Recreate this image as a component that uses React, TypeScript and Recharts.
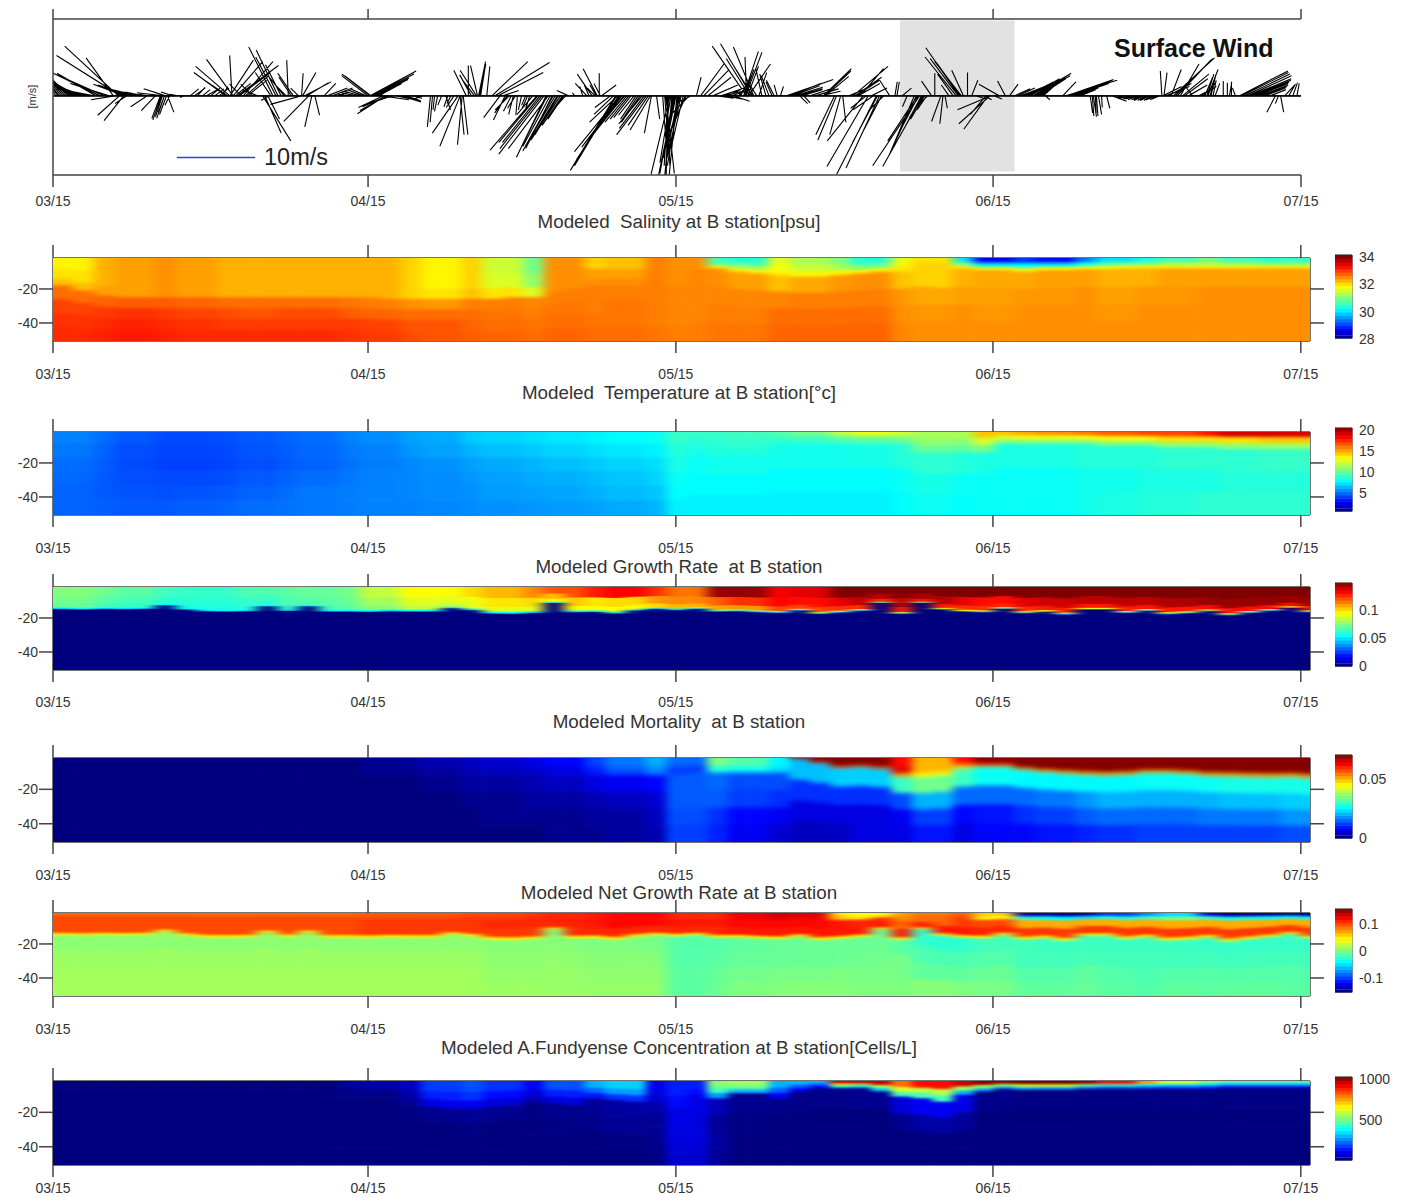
import { ComposedChart, Line, ReferenceArea, ReferenceLine, Scatter, ScatterChart, XAxis, YAxis } from 'recharts'

// x axis is days since 03/15
const dateTicks = [0, 30.8, 60.9, 91.9, 122]
const dateLabels = ['03/15', '04/15', '05/15', '06/15', '07/15']
const depthTicks = [-20, -40]
const depthTop = -1.8
const depthBottom = -50.6
const heatDayMax = 122.9

// wind sticks: [day, u m/s, v m/s]
const windMarch: number[][] = [
  [0.3,-2,2.9],[0.5,-2,2.7],[0.6,-2,2.6],[0.8,-2,2.5],[1,-2,2.4],[1.2,-2,2.3],[1.4,-2,2.2],[1.6,-2.2,2.1],[1.8,-2.5,2],[2,-2.8,2],[2.2,-3,1.9],[2.4,-3.2,1.8],[2.6,-3.5,1.6],[2.8,-3.5,1.4],[3,-3.5,1.3],[3.2,-3.8,1.2],[3.4,-4,1.1],[3.6,-4.2,1],[3.8,-4.5,0.9],[4,-4.6,0.9],
  [4.2,-5,2.9],[4.6,-6,2.9],[5,-6,2.7],[5.5,-5,1.6],[5.9,-3.5,4.9],[6.4,-6.9,6.4],[6.6,-8.2,5.2],[7,-4,1.5],[7.2,-3.7,1.4],[7.3,-3.5,1.3],[7.5,-3.2,1.1],[7.6,-3,1],[7.8,-3,0.9],[8,-3,0.8],[8.2,-2.8,0.7],[8.3,-2.5,0.6],[8.5,-2.2,0.5],[8.6,-2,0.5],[8.8,-1.8,0.4],[8.9,-1.5,0.3],[9.2,-1,0.2],
  [6.5,-2.8,-2.5],[6.9,-2.5,-3.2],[6,-3,-0.5],[7.2,-1.5,-1],[9.2,-2.1,-1.4],[10,-1.8,-1.9],[10.5,-1.1,-2.9],[10.6,-1.1,-3.1],[10.7,-0.9,-2.7],[10.8,-3.4,0.4],[10.9,-0.8,-2.1],[10.9,-1,-2.9],[11,-2.8,0.9],[11.1,-0.9,-2.4],[11.2,0.8,-2.1],[11.4,-0.6,-1.2],[11.7,-1.5,0.5],[12.2,-1,0.2],[12.8,-0.5,-0.2],
  [13.4,1.1,0.9],[13.8,1.4,1],[14.1,1,1.1],[14.6,1,0.8],[15,1.4,0.8],[15.4,1.2,1],[15.8,1.2,0.9],[16.2,1.3,1],[16.5,0.8,1.2],
  [16.9,-4.1,3],[17.1,-3,2],[17.3,-4.4,3.8],[17.3,3,4.6],[17.5,-0.3,5.2],[17.6,-3.4,4.7],[17.6,3.8,4.4],[17.8,2,1.6],[18,5.3,3.9],[18.2,4,3],[18.4,-1.5,1.5],[18.6,3.8,4.4],[18.8,3,2.6],[19,2.5,2],[19.5,-1.5,1.5],[20,-2,0.8],
]
const windApril: number[][] = [
  [20.5,3.6,-5.8],[20.7,2.1,-4.8],[21,1.5,-3],[21.1,-1,-0.6],[21.3,-2,3],[21.5,-3.1,6.3],[21.8,-2.6,5],[22,-2.8,5.9],[22.3,-2,4],[22.6,-2,2.5],[22.8,-1.5,1.5],[23,-0.2,4.6],[23.3,-1.6,2.4],[23.5,-2,2.9],[24,-1,1],[24.3,-4,-1.1],[24.3,0.2,2.9],[24.4,1.7,3],[24.6,3.4,1.8],[24.8,2.8,1.7],[25,-3.2,-3.3],[25.3,-0.9,-4],[25.6,0.6,-2.5],[26.5,1.5,1.6],[26.8,2.6,1],[27.3,2.6,1],[27.8,1.5,0.5],
  [29,-1.5,0.2],[29.6,-1.8,0.4],[30,-2,0.6],[30.3,-2,0.8],[30.6,-2,0.9],[30.8,-3.4,2.6],[31,-3.6,2.8],[31.1,-3.4,2.6],[31,5.9,3.2],[31.1,5.5,2.8],[31.3,4.6,2.3],[31.5,4.2,2.1],[31.6,3.8,2],[31.8,3,1.6],[31.9,1.9,1.2],[32.2,3.4,-0.5],[32.3,-3.2,-1.5],[32.5,-3.6,-2.3],[32.6,-3.4,-1.9],[32.7,-3.2,-1.4],[32.8,-3,-1.2],[33,-3.5,-1.2],[33.2,-3,-1],[33.3,-2.8,-0.8],[33.5,2.4,-0.5],[33.7,2,-0.3],[34,2.6,-0.8],[34.3,2.2,-0.7],[34.5,1.8,-0.6],[35,1.4,-0.3],[35.5,0.8,-0.1],[36,-0.8,-0.4],
  [36.9,-0.4,-4],[37.1,-0.3,-3.4],[37.3,-0.2,-1.8],[37.6,-0.4,-2],[38,-0.5,-1.2],[38.4,0.6,-1.8],[38.6,-0.5,-1.4],[38.9,-0.5,-1],[39.2,-1,-1.5],[39.6,-3.3,-4.8],[39.8,-2.6,-6.5],[39.8,0.5,-5],[40,-0.6,-6.3],[40.1,0.6,-5],[40.4,-1.6,3.3],[40.6,0,3.9],[40.9,-1.5,2.7],
]
const windMay: number[][] = [
  [41.2,-1.5,2],[41.4,-2.1,3.3],[41.5,-0.9,3.9],[41.6,0.9,4.4],[41.7,0.8,4.1],[41.8,0.6,3.8],[42.4,0.4,3.8],[42.9,4.6,4.4],[43.2,7,4.3],[43.5,5.8,3],[43.7,-2.1,-2.8],[44,2,0.7],[44.2,-1.5,-3.1],[44.4,-1.6,-2.2],[44.6,-1.8,-1.8],[44.8,-1,-2],[45,-0.6,-2.4],[45.2,-1,-1.6],[45.4,-0.2,-2.5],[45.8,-0.4,-1.8],[46.2,-0.5,-1.2],[46.4,-0.7,-1.6],[46.6,-0.5,-1.6],[46.9,-2,-2.4],
  [47.3,-6,-7],[47.4,-5,-6],[47.6,-4.8,-6],[47.8,-5.4,-6.8],[48,-5.8,-7.5],[48.2,-3.8,-7.9],[48.3,-3.6,-7.2],[48.4,-5.1,-6.8],[48.6,-3.5,-6.5],[48.8,-3.4,-6.8],[48.9,-3.9,-7.1],[49.1,-3.8,-6.4],[49.3,-3.4,-5.6],[49.4,-3,-5],[49.6,-3.8,-5.7],[49.8,-2.6,-3.8],[49.9,-2,-3],[50.1,-1.6,-1.8],[50.4,-1.5,0.7],[51,-0.3,0.4],[51.8,-0.4,1.2],[52.2,-1.5,1.6],[52.4,-0.6,1.4],[52.7,-1.9,2.8],[53,-1,1],[53.1,-0.8,1.4],[53.2,-1.8,3.5],[53.4,0,2.9],[53.5,-0.8,1.6],[53.6,1.9,1.4],
  [54.5,-2,-1.5],[54.8,-2.5,-2.4],[55,-5.8,-9.6],[55.1,-5.4,-9],[55.2,-3.6,-3.4],[55.3,-5.4,-8.2],[55.4,-5.8,-7.2],[55.5,-5,-6.6],[55.6,-4.4,-6],[55.8,-3.8,-4.8],[55.9,-3.5,-4],[56.1,-2.8,-3.4],[56.3,-2.4,-3],[56.5,-2.2,-2.8],[56.8,-2,-2.5],[57,-2,-3],[57.2,-2.2,-3.3],[57.4,-2.4,-3.4],[57.6,-3,-3.6],[57.8,-3.2,-4.2],[58,-3.8,-5],[58.2,-2.6,-3.8],[58.4,-2.6,-4.4],[58.5,-0.9,-4.8],[59,0.4,-3],
  [59.6,0.4,-5.5],[59.8,0.6,-8],[59.9,1.1,-10],[60,0.4,-9],[60.1,-0.2,-10.2],[60.2,-0.6,-9],[60.3,-2.4,-10.1],[60.4,-1.4,-8.6],[60.5,-0.9,-10.2],[60.6,-1.2,-8],[60.7,-1.8,-10],[60.8,-2.1,-10.2],[60.9,-1.4,-7],[61,-1,-10.2],[61.1,-1.5,-8],[61.2,-1.5,-9],[61.3,-1.6,-6],[61.4,-1.8,-8],[61.6,-1.5,-6.5],[61.8,-2,-5],[61.9,-2.1,-4.6],[62.2,-2.4,-2.5],[62.4,-2,-1],
  [62.9,0.6,2.4],[63.3,3,4.1],[63.6,3.2,3.3],[64,3,2.4],[64.5,3.2,1.4],[65,2,-0.3],[65.3,3,1],[65.5,2.5,0.6],[65.8,2,-0.4],[66,2,1],[66.3,1.8,0.6],[66.5,2.1,-0.7],[67,1.6,1.6],[67.2,1.4,2.6],[67.5,1.9,5.7],[67.6,1.2,3.4],[67.7,2.1,5.6],[67.8,-4.4,6.4],[67.8,-0.2,5],[67.9,1.4,3.8],[68,2.8,4.1],[68.1,-3,4.8],[68.3,-4,6.7],[68.4,-2.4,3.8],[68.5,-2.6,6.3],[68.8,-1.4,2.2],[69,1,3],[69.3,-0.8,3.6],[69.7,-0.8,2.8],[70,-1,2.6],[70.3,-0.8,1.8],[70.5,-1,2],[70.8,-0.4,1.4],[71.1,0.4,1.2],
]
const windJune: number[][] = [
  [71.7,6,2.1],[72,4,1.6],[72.2,3.6,1.3],[72.5,3.6,1.1],[72.8,3.2,0.9],[73,1,-1],[73.2,2.6,0.8],[73.4,0.8,-0.9],[74,3,1],[74.5,3,0.9],[75,2.6,0.6],[75.3,3.6,3.5],[75.4,3.4,3.2],[75.5,3,2.5],[76.4,-2.4,-5],[76.6,-2.4,-5.7],[77,-1.4,-5],[77.2,0.4,-3.4],[77.8,2.4,1],[78.2,4.5,3.8],[78.4,3.4,2.4],[78.5,3,2],[78.7,2.8,1.6],[78.9,3,3.5],[79.2,-4.6,-5.8],[79.5,-2,-1.6],[79.7,-5.3,-9.1],[80,2,1],[80.2,-2.6,-1.8],[80.5,-5.1,-10.1],[80.6,-3.2,-6],[80.8,-4.3,-9.3],[81,-2.6,-5],[81.2,-2,-2],[81.8,-1.3,2],[82.3,0.3,1.8],[82.5,0.3,1.8],[83,1.2,1],[83.5,-0.6,-1.4],
  [84.2,-3.2,-7.6],[84.4,-3,-6.6],[84.5,-3.8,-5.8],[84.6,-2.4,-4.6],[84.7,-6,-9],[84.9,-2,-3.8],[85,-5.1,-9.1],[85.1,-1.8,-2.8],[85.2,-1.8,-3],[85.4,-1.2,-1.8],[85.5,-1,-1],[85.9,-1.3,1.9],[86.2,0,2.9],[86.8,-1.2,-3.3],[87,-0.4,-3.6],[87.2,0.3,-1.6],[87.6,-1,1.4],[88,-2,2.8],[88.3,-4,5],[88.5,-3.6,4.8],[88.6,-4.3,6.2],[88.7,-3,4.2],[88.8,-3.4,4.4],[89,-1.5,3.3],[89.4,0,3],[89.8,0.8,2],[90.2,1,-0.3],[91,1,-0.5],[91.2,-2,-2.4],[91.4,-3.1,-4.3],[91.6,-4,-3.6],[91.7,-4.3,-1.8],[92,1,-0.4],[92.5,-2.6,1.5],[93.1,-1,1.9],[93.5,1.1,1.5],
  [94,2,0.9],[94.3,2.2,1],[94.6,2.6,1],[94.8,2.8,1.2],[95,3.4,1.5],[95.2,3.4,1.8],[95.3,3.6,1.7],[95.5,3.8,2.2],[95.8,4.9,2.9],[96,4.5,2.6],[96.2,3.6,2.4],[96.4,3.4,2.2],[96.6,2.6,2],[96.8,2,1.8],[97,0.6,-0.5],[98.7,1.7,1.8],[99,6.6,2],[99.1,6,2.1],[99.3,5.6,2],[99.5,5,1.8],[99.7,4.6,1.6],[99.9,3.6,1.4],[100,3,1.2],[100.2,2.6,1],[100.4,2,0.8],
]
const windJuly: number[][] = [
  [101.4,0.3,-2.2],[101.6,0.2,-2.6],[101.7,0.4,-2.7],[101.9,0.1,-2.2],[102,0.2,-2.6],[102.2,0.4,-2.4],[102.5,0.1,-1.5],[103,0.4,-1.6],[103.5,1.9,-0.7],[104.8,-1,-0.2],[105,-1,-0.3],[105.2,-1,-0.3],[105.4,-1,-0.4],[105.6,-1.2,-0.4],[105.8,-1.2,-0.4],[106,-1.2,-0.5],[106.2,-1,-0.5],[106.4,-1,-0.5],[106.6,-1.2,-0.6],[106.8,-1,-0.6],[107,-1,-0.5],[107.2,-1.2,-0.6],[107.4,-1,-0.6],[107.6,-1,-0.5],[107.8,-1.2,-0.5],[108,-1,-0.5],[108.2,-1,-0.4],
  [108.4,-0.2,3.2],[108.5,2.4,1.2],[108.6,0.4,3],[108.8,3,1.2],[109,3,1.6],[109.3,1.3,3.4],[109.5,5.3,4.9],[109.7,4.8,4.8],[109.9,4.3,4.6],[110.2,2.4,4.1],[110.4,3.4,2.8],[110.6,3,2.2],[111,2.4,1.4],[111.4,-1,1.3],[112,2,1],[112.2,2,1.2],[112.4,1.6,1.6],[112.6,1,2.4],[112.8,0.9,2.8],[112.9,1.3,3.4],[113.1,0.8,2.8],[113.2,0.6,2.6],[113.4,0.4,2],[113.6,0.6,1.6],[114.4,0,1.9],[114.8,0,1.7],[115,0.3,1.7],[115.2,0,1.8],[115.6,-0.4,1],
  [116,6.2,3.2],[116.2,6,3],[116.5,5.8,2.8],[116.8,5.6,2.6],[117,5.3,2.2],[117.2,5,2],[117.4,4.5,1.8],[117.7,4,1.6],[118,3.6,1.4],[118.2,3.2,1.2],[118.5,2.6,1],[119,2,0.8],[119.5,-1.1,-2.1],[119.8,-0.4,-1],[120,0.4,-2.1],[120.4,1.4,1.5],[120.8,0.8,1.4],[121.2,0.6,1.7],[121.6,0.3,1.6],
]
const windBaseDays = [0, 122]

// interface depths, one every 2 days
const salinityEdge = [-18,-21,-24,-25,-25,-25,-25,-25,-25,-25,-25,-25,-25,-25,-25,-25,-26,-26,-26,-26,-26,-26,-25,-25,-22,-20,-18,-18,-18,-18,-18,-9,-8,-10,-11,-12,-13,-13,-12,-11,-10,-10,-8,-9,-8,-9,-9,-10,-9,-9,-8.5,-8.5,-8,-8,-8,-8,-8,-8,-8,-8,-8,-8]
const temperatureEdge = [-25,-25,-25,-25,-25,-25,-25,-25,-25,-25,-25,-25,-25,-25,-25,-25,-25,-25,-25,-25,-25,-25,-25,-25,-25,-25,-25,-25,-25,-25,-25,-15,-15,-15,-15,-9,-9,-9,-9,-9,-9,-9,-14,-14,-14,-14,-9,-9,-9,-9,-9,-10,-10,-10,-11,-11,-11,-12,-12,-12,-12,-12]
const growthEdge = [-15,-15.3,-14.9,-15.1,-14.9,-12.8,-15.3,-16.3,-16.5,-16.3,-13.4,-16.1,-13.4,-16.5,-16.5,-16.7,-16.3,-16.5,-16.5,-14.5,-15.7,-17.7,-17.9,-17.3,-11.4,-16.9,-16.7,-17.7,-15.9,-14.9,-15.7,-14.9,-16.5,-16.3,-16.9,-17.3,-15.9,-17.9,-17.1,-16.1,-11.4,-17.9,-11.4,-15.3,-16.5,-16.9,-14.9,-17.5,-16.7,-18.3,-15.3,-15.3,-17.3,-16.1,-18.1,-17.5,-16.3,-18.7,-17.3,-16.1,-14.3,-16.9]
const mortalityEdge = [-12,-12,-12,-12,-12,-12,-12,-12,-12,-12,-12,-12,-12,-12,-12,-12,-12,-12,-12,-12,-12,-12,-12,-12,-12,-12,-12,-12,-12,-12,-12,-10.5,-10.5,-10.5,-10.5,-10.5,-2.5,-5,-7.9,-7.3,-8.3,-12.8,-13,-12,-8,-7,-7,-8.9,-10.2,-11,-11.8,-12.2,-11.8,-10.6,-10.6,-11.2,-12.4,-12.6,-13,-13.2,-13,-13.8]
const concentrationEdge = [-8,-8,-8,-8,-8,-8,-8,-8,-8,-8,-8,-8,-8,-12,-12,-12,-12,-16,-17,-18,-18,-17,-16,-14,-15,-16,-12,-13,-14,-20,-24,-14,-12,-9,-9,-12,-8,-6,-6,-6,-8,-11,-12,-14,-10,-8,-6.5,-7,-7,-7,-6.5,-6.5,-6.5,-6.5,-6.5,-6.5,-6.5,-6,-6,-6,-6,-6]

// rows run from surface to interface (upper) and interface to bottom (lower), one value every 3 days
const salinityUpper = [
  [31.9,32.3,32.4,32.5,32.4,32.3,32.3,32.3,32.3,32.3,32.3,32.1,31.9,32.1,31.5,30.9,32.5,32.1,32.2,32.6,32.5,30.6,30.4,31.7,31.3,31,30.4,31.7,32,30,28.6,29,28.7,29.4,30,30.3,30.6,31,30.6,30.4,30.5],
  [32,32.3,32.4,32.5,32.4,32.3,32.3,32.3,32.3,32.3,32.3,32.1,31.9,32.1,31.6,31.1,32.5,32.4,32.4,32.6,32.5,30.8,31,31.8,31.5,31.3,30.9,31.9,32.1,30.8,30,30.2,30,30.2,30.8,31,31.2,31.3,31.1,31,31],
  [32.2,32.4,32.4,32.5,32.4,32.3,32.3,32.3,32.3,32.3,32.3,32.1,32,32.2,32,31.6,32.5,32.5,32.5,32.6,32.5,31.9,31.9,31.9,31.9,31.9,31.9,32,32.1,31.9,31.7,31.8,31.8,31.8,31.8,31.9,31.9,31.9,31.9,31.9,31.9],
]
const salinityLower = [
  [32.7,32.75,32.8,32.8,32.75,32.7,32.7,32.7,32.7,32.65,32.6,32.5,32.45,32.6,32.6,32.55,32.6,32.6,32.6,32.6,32.55,32.5,32.4,32.2,32.35,32.45,32.5,32.2,32.1,32.3,32.35,32.35,32.4,32.4,32.3,32.3,32.4,32.4,32.4,32.4,32.4],
  [32.95,33,33.05,33,32.95,32.9,32.85,32.9,32.9,32.8,32.75,32.7,32.7,32.7,32.65,32.6,32.65,32.6,32.65,32.6,32.55,32.55,32.55,32.55,32.6,32.6,32.6,32.45,32.35,32.4,32.4,32.45,32.45,32.5,32.4,32.45,32.45,32.5,32.5,32.5,32.5],
  [33.05,33.1,33.15,33.1,33.05,33,33,33,33,33,32.95,32.85,32.85,32.75,32.7,32.65,32.7,32.65,32.65,32.6,32.55,32.6,32.6,32.7,32.7,32.7,32.7,32.5,32.45,32.5,32.45,32.5,32.5,32.5,32.45,32.5,32.5,32.5,32.5,32.5,32.5],
  [33.1,33.15,33.2,33.15,33.1,33.1,33.1,33.1,33.1,33.05,33,32.9,32.85,32.8,32.75,32.7,32.75,32.7,32.7,32.65,32.6,32.65,32.65,32.75,32.75,32.75,32.75,32.55,32.5,32.5,32.5,32.5,32.5,32.5,32.5,32.5,32.5,32.5,32.5,32.5,32.5],
]
const temperatureUpper = [
  [5.4,5,4.6,4.3,4.3,4.4,4.6,4.8,5,5.4,5.6,6,6.2,6.8,7,7.2,7.4,7.6,7.8,8,9,9,9.2,9.6,10.4,12,13,12.5,11.5,11.6,14.5,15,15.5,16,16.5,17,17,18,19,19,19],
  [5.2,4.8,4.4,4.2,4.2,4.3,4.5,4.7,4.9,5.2,5.4,5.8,6,6.4,6.6,6.8,7,7.2,7.4,7.6,8.6,8.8,8.9,9.1,9.4,10,10.4,10.6,11,10.8,12.5,13,13,13.2,13.5,13.5,14,14,14,14.5,14.5],
  [5,4.7,4.3,4.1,4.1,4.2,4.4,4.6,4.8,5.1,5.3,5.5,5.7,6,6.2,6.4,6.6,6.8,7,7.2,8.4,8.6,8.6,8.8,8.9,9.2,9.6,9.8,10,9.8,10.5,10.6,10.6,10.6,10.8,10.8,11,11,11,11.2,11.2],
]
const temperatureLower = [
  [4.9,4.6,4.4,4.3,4.3,4.4,4.6,4.8,5,5.2,5.4,5.5,5.6,5.8,6,6.2,6.3,6.5,6.7,7,8,8.2,8.2,8.2,8.2,8.2,8.3,8.6,8.8,8.6,8.4,8.4,8.4,8.6,8.6,8.6,8.8,8.8,8.8,9,9],
  [4.8,4.6,4.5,4.4,4.5,4.6,4.8,5,5.2,5.3,5.4,5.5,5.6,5.7,5.9,6,6.1,6.3,6.5,6.7,7.8,7.8,7.8,7.8,7.8,7.8,7.8,8,8.3,8,8,8,8,8.2,8.2,8.4,8.4,8.4,8.6,8.6,8.6],
  [4.8,4.7,4.6,4.6,4.7,4.8,5,5.1,5.2,5.3,5.4,5.4,5.5,5.6,5.7,5.8,5.9,6,6.2,6.4,7.6,7.6,7.6,7.6,7.6,7.6,7.6,7.8,8.1,7.8,8,8,8,8.2,8.4,8.6,8.6,8.8,8.8,8.8,8.8],
]
const growthUpper = [
  [0.075,0.072,0.068,0.064,0.062,0.062,0.066,0.068,0.07,0.072,0.085,0.095,0.095,0.1,0.105,0.112,0.12,0.128,0.132,0.125,0.115,0.145,0.145,0.132,0.135,0.148,0.148,0.148,0.148,0.148,0.148,0.148,0.148,0.148,0.148,0.148,0.148,0.148,0.148,0.148,0.148],
  [0.072,0.068,0.065,0.062,0.06,0.06,0.062,0.066,0.068,0.07,0.08,0.09,0.09,0.092,0.098,0.1,0.103,0.098,0.1,0.11,0.112,0.118,0.125,0.132,0.13,0.135,0.14,0.14,0.142,0.135,0.13,0.135,0.138,0.14,0.14,0.14,0.142,0.145,0.145,0.145,0.145],
  [0.07,0.065,0.062,0.058,0.058,0.058,0.06,0.062,0.065,0.068,0.075,0.085,0.085,0.09,0.09,0.09,0.095,0.095,0.095,0.1,0.105,0.108,0.11,0.122,0.122,0.125,0.125,0.128,0.128,0.125,0.125,0.125,0.128,0.128,0.128,0.128,0.128,0.13,0.13,0.13,0.13],
  [0.055,0.055,0.055,0.058,0.065,0.075,0.085,0.09,0.09,0.09],
  [0.04],
]
const growthLower = [[0]]
const mortalityUpper = [
  [0,0,0,0,0,0,0,0,0,0,0.001,0.002,0.003,0.004,0.005,0.006,0.008,0.012,0.016,0.02,0.015,0.035,0.032,0.025,0.07,0.07,0.07,0.062,0.05,0.062,0.07,0.07,0.07,0.07,0.07,0.07,0.07,0.07,0.07,0.07,0.07],
  [0,0,0,0,0,0,0,0,0,0,0.001,0.001,0.002,0.003,0.004,0.005,0.006,0.01,0.014,0.017,0.012,0.03,0.028,0.024,0.068,0.07,0.07,0.065,0.05,0.055,0.065,0.07,0.07,0.07,0.07,0.07,0.07,0.07,0.07,0.07,0.07],
  [0,0,0,0,0,0,0,0,0,0,0.001,0.001,0.002,0.003,0.004,0.004,0.006,0.009,0.012,0.016,0.012,0.027,0.025,0.022,0.058,0.056,0.056,0.052,0.045,0.047,0.052,0.052,0.052,0.052,0.052,0.052,0.052,0.052,0.052,0.052,0.052],
]
const mortalityLower = [
  [0,0,0,0,0,0,0,0,0,0,0,0,0.001,0.002,0.002,0.003,0.004,0.006,0.007,0.008,0.014,0.015,0.013,0.013,0.021,0.022,0.022,0.03,0.034,0.03,0.026,0.025,0.025,0.025,0.025,0.026,0.026,0.026,0.027,0.027,0.027],
  [0,0,0,0,0,0,0,0,0,0,0,0,0,0.001,0.001,0.002,0.002,0.003,0.004,0.005,0.014,0.014,0.012,0.011,0.011,0.011,0.011,0.013,0.02,0.015,0.015,0.015,0.016,0.018,0.02,0.02,0.02,0.02,0.021,0.021,0.022],
  [0,0,0,0,0,0,0,0,0,0,0,0,0,0,0.001,0.001,0.001,0.002,0.002,0.004,0.013,0.011,0.008,0.007,0.006,0.006,0.006,0.007,0.012,0.008,0.009,0.011,0.012,0.014,0.015,0.015,0.015,0.016,0.016,0.016,0.018],
  [0,0,0,0,0,0,0,0,0,0,0,0,0,0,0,0,0.001,0.001,0.002,0.003,0.012,0.01,0.007,0.005,0.004,0.004,0.006,0.006,0.009,0.006,0.008,0.008,0.009,0.01,0.011,0.012,0.012,0.012,0.012,0.012,0.013],
]
const netUpper = [
  [0.09,0.09,0.09,0.09,0.09,0.09,0.09,0.09,0.09,0.09,0.095,0.095,0.095,0.1,0.1,0.105,0.11,0.115,0.12,0.12,0.11,0.11,0.125,0.135,0.13,0.05,0.045,0.075,0.085,0.095,0.06,-0.13,-0.14,-0.14,-0.1,-0.075,-0.05,-0.12,-0.14,-0.14,-0.14],
  [0.1,0.1,0.1,0.1,0.1,0.1,0.1,0.1,0.1,0.1,0.1,0.1,0.1,0.105,0.105,0.11,0.112,0.115,0.12,0.12,0.11,0.11,0.125,0.13,0.125,0.06,0.05,0.08,0.09,0.105,0.045,-0.02,-0.04,-0.05,-0.03,-0.02,0,-0.02,-0.03,-0.04,-0.04],
  [0.1,0.1,0.1,0.1,0.1,0.1,0.1,0.1,0.1,0.1,0.105,0.105,0.105,0.105,0.11,0.11,0.112,0.115,0.12,0.12,0.115,0.115,0.12,0.12,0.12,0.115,0.11,0.09,0.09,0.105,0.1,0.07,0.07,0.07,0.07,0.07,0.07,0.07,0.07,0.07,0.07],
  [0.1,0.1,0.1,0.1,0.1,0.1,0.1,0.1,0.1,0.1,0.105,0.105,0.105,0.105,0.105,0.105,0.11,0.11,0.11,0.11,0.11,0.11,0.115,0.115,0.115,0.115,0.115,0.115,0.115,0.115,0.11,0.105,0.105,0.105,0.105,0.105,0.105,0.105,0.105,0.105,0.105],
  [0.05],
]
const netLower = [
  [0.007,0.007,0.007,0.007,0.007,0.007,0.007,0.007,0.007,0.007,0.007,0.007,0.007,0.007,0.006,0.005,0.004,0.002,0.002,0,-0.012,-0.012,-0.008,-0.006,-0.005,-0.005,-0.005,-0.01,-0.025,-0.025,-0.018,-0.018,-0.02,-0.02,-0.02,-0.02,-0.02,-0.022,-0.022,-0.022,-0.022],
  [0.012,0.012,0.012,0.012,0.012,0.012,0.012,0.012,0.012,0.012,0.012,0.012,0.012,0.012,0.008,0.008,0.008,0.006,0.006,0.005,-0.012,-0.01,-0.006,-0.005,-0.005,-0.004,-0.003,0,-0.015,-0.015,-0.012,-0.018,-0.018,-0.016,-0.018,-0.018,-0.018,-0.018,-0.018,-0.018,-0.018],
  [0.014,0.014,0.014,0.014,0.014,0.014,0.014,0.014,0.014,0.014,0.014,0.014,0.014,0.014,0.01,0.01,0.01,0.008,0.008,0.008,-0.01,-0.006,-0.002,0,0,0.002,0,0,-0.008,-0.008,-0.005,-0.012,-0.012,-0.008,-0.012,-0.016,-0.012,-0.012,-0.012,-0.012,-0.012],
  [0.015,0.015,0.015,0.015,0.015,0.015,0.015,0.015,0.015,0.015,0.015,0.015,0.015,0.015,0.012,0.012,0.011,0.01,0.01,0.01,-0.01,-0.004,0.002,0.004,0.005,0.005,0.002,0.002,0.005,0.002,0,-0.008,-0.008,-0.005,-0.01,-0.014,-0.008,-0.01,-0.008,-0.008,-0.01],
]
const concentrationUpper = [
  [10,10,10,10,10,10,10,10,10,40,50,70,180,200,170,120,200,300,330,100,150,520,550,300,300,950,950,800,900,950,1000,1020,1020,1000,900,750,600,500,450,450,450],
  [10,10,10,10,10,10,10,10,10,25,30,50,150,170,130,90,150,230,280,80,130,450,480,220,200,650,550,620,580,550,550,620,620,520,440,380,350,320,300,300,300],
  [10,10,10,10,10,10,10,10,10,15,15,30,100,110,90,60,90,140,170,50,100,280,300,120,120,350,320,450,450,300,280,300,280,260,220,190,170,150,140,140,140],
]
const concentrationLower = [
  [10,10,10,10,10,10,10,10,10,10,10,15,25,30,25,15,25,30,40,30,100,60,25,20,20,20,25,90,110,100,20,15,15,15,15,15,15,15,15,15,15],
  [10,10,10,10,10,10,10,10,10,10,10,10,10,15,10,10,15,20,30,30,95,30,15,10,10,10,10,25,45,35,10,10,10,10,10,10,10,10,10,10,10],
  [10,10,10,10,10,10,10,10,10,10,10,10,10,10,10,10,10,10,15,20,90,40,12,10,10,10,10,10,10,10,10,10,10,10,10,10,10,10,10,10,10],
  [10,10,10,10,10,10,10,10,10,10,10,10,10,10,10,10,10,10,10,15,80,30,12,10,10,10,10,10,10,10,10,10,10,10,10,10,10,10,10,10,10],
]

const colorbarLevels = [0.01,0.05,0.09,0.13,0.17,0.21,0.25,0.29,0.33,0.37,0.41,0.45,0.49,0.53,0.57,0.61,0.65,0.69,0.73,0.77,0.81,0.85,0.89,0.93,0.97,0.99]
const jetStops = [[0,0,0,127],[0.11,0,0,255],[0.36,0,255,255],[0.5,127,255,127],[0.64,255,255,0],[0.89,255,0,0],[1,127,0,0]]

const panels = [
  { key: 'salinity', title: 'Modeled  Salinity at B station[psu]', titleY: 222, top: 258, height: 83, labelGap: 16, edge: salinityEdge, upper: salinityUpper, lower: salinityLower, weights: [0.4, 0.35, 0.25], range: [28.07, 34.15], colorRange: [28, 34], barTop: 255, barTicks: [34, 32, 30, 28], blur: '6 1.8' },
  { key: 'temperature', title: 'Modeled  Temperature at B station[°c]', titleY: 393, top: 432, height: 83, labelGap: 16, edge: temperatureEdge, upper: temperatureUpper, lower: temperatureLower, weights: [0.3, 0.35, 0.35], range: [0.7, 20.5], colorRange: [0.7, 20.5], barTop: 428, barTicks: [20, 15, 10, 5], blur: '6 1.6' },
  { key: 'growth', title: 'Modeled Growth Rate  at B station', titleY: 567, top: 587, height: 83, labelGap: 15, edge: growthEdge, upper: growthUpper, lower: growthLower, weights: [0.42, 0.33, 0.17, 0.05, 0.03], range: [0, 0.148], colorRange: [0, 0.148], barTop: 583, barTicks: [0.1, 0.05, 0], blur: '7 0.7' },
  { key: 'mortality', title: 'Modeled Mortality  at B station', titleY: 722, top: 758, height: 84, labelGap: 16, edge: mortalityEdge, upper: mortalityUpper, lower: mortalityLower, weights: [0.5, 0.3, 0.2], range: [0, 0.0703], colorRange: [0, 0.0703], barTop: 755, barTicks: [0.05, 0], blur: '5 2.2' },
  { key: 'net', title: 'Modeled Net Growth Rate at B station', titleY: 893, top: 913, height: 83, labelGap: 16, edge: growthEdge, upper: netUpper, lower: netLower, weights: [0.14, 0.14, 0.3, 0.32, 0.1], range: [-0.15, 0.155], colorRange: [-0.15, 0.155], barTop: 909, barTicks: [0.1, 0, -0.1], blur: '7 0.9' },
  { key: 'concentration', title: 'Modeled A.Fundyense Concentration at B station[Cells/L]', titleY: 1048, top: 1081, height: 84, labelGap: 6, edge: concentrationEdge, upper: concentrationUpper, lower: concentrationLower, weights: [0.4, 0.3, 0.3], range: [10, 1020], colorRange: [10, 1020], barTop: 1077, barTicks: [1000, 500], blur: '4 1' },
]

const axisColor = '#444'
const textColor = '#333'
const fontFamily = '"Liberation Sans", Arial, sans-serif'
const tickFont = { fontSize: 14, fill: textColor, fontFamily }
const noLabel = () => ''
const dateLabel = (v: number) => dateLabels[dateTicks.indexOf(v)] ?? ''

function jet(value: number, range: number[]) {
  const p = Math.min(1, Math.max(0, (value - range[0]) / (range[1] - range[0])))
  let i = 0
  while (i < jetStops.length - 2 && p > jetStops[i + 1][0]) i++
  const a = jetStops[i]
  const b = jetStops[i + 1]
  const t = (p - a[0]) / (b[0] - a[0])
  const c = [1, 2, 3].map((k) => Math.round(a[k] + (b[k] - a[k]) * t))
  return `rgb(${c[0]},${c[1]},${c[2]})`
}

function buildCells(p: (typeof panels)[number]) {
  const cells: any[] = []
  const count = p.edge.length
  p.edge.forEach((edge, i) => {
    const x0 = i === 0 ? -12 : i * 2
    const x1 = i === count - 1 ? 136 : i * 2 + 2
    const push = (y0: number, y1: number, row: number[]) => {
      const value = row[Math.floor(((i + 0.5) * row.length) / count)]
      cells.push({ day: (x0 + x1) / 2, depth: (y0 + y1) / 2, w: x1 - x0, h: y0 - y1, fill: jet(value, p.colorRange) })
    }
    let y = depthTop
    p.upper.forEach((row, r) => {
      const next = y + (edge - depthTop) * p.weights[r]
      push(r === 0 ? depthTop + 6 : y, next, row)
      y = next
    })
    const step = (edge - depthBottom) / p.lower.length
    p.lower.forEach((row, r) => {
      const next = edge - step * (r + 1)
      push(y, r === p.lower.length - 1 ? depthBottom - 6 : next, row)
      y = next
    })
  })
  return cells
}

// draws a cell as a rect around the point the scales gave, sizes converted with the px per unit
const cellShape = (pxX: number, pxY: number) => (props: any) => {
  const d = props.payload
  const w = d.w * pxX + 0.6
  const h = d.h * pxY + 0.6
  return <rect x={props.cx - w / 2} y={props.cy - h / 2} width={w} height={h} fill={d.fill} stroke="none" />
}

function HeatPanel({ p }: { p: (typeof panels)[number] }) {
  const cells = buildCells(p)
  const plotWidth = 1257
  const domain = [0, heatDayMax]
  return (
    <div className={`heat-${p.key}`} style={{ position: 'absolute', left: 0, top: p.top - 13 }}>
      <ScatterChart width={1405} height={p.height + 13 + 45} margin={{ top: 0, right: 65, bottom: 0, left: 0 }}>
        <XAxis xAxisId="top" orientation="top" type="number" dataKey="day" domain={domain} allowDataOverflow ticks={dateTicks} height={13} tickSize={13} tickFormatter={noLabel} stroke={axisColor} strokeWidth={1.5} />
        <XAxis xAxisId="bottom" type="number" dataKey="day" domain={domain} allowDataOverflow ticks={dateTicks} height={45} tickSize={12} tickMargin={p.labelGap} tickFormatter={dateLabel} tick={tickFont} stroke={axisColor} strokeWidth={1.5} interval={0} />
        <YAxis yAxisId="left" type="number" dataKey="depth" domain={[depthBottom, depthTop]} allowDataOverflow ticks={depthTicks} width={53} tickSize={14} tickMargin={1} tick={tickFont} stroke={axisColor} strokeWidth={1.5} />
        <YAxis yAxisId="right" orientation="right" type="number" dataKey="depth" domain={[depthBottom, depthTop]} allowDataOverflow ticks={depthTicks} width={30} tickSize={14} tickFormatter={noLabel} stroke={axisColor} strokeWidth={1.5} />
        <Scatter data={cells} xAxisId="bottom" yAxisId="left" dataKey="depth" isAnimationActive={false} shape={cellShape(plotWidth / heatDayMax, p.height / (depthTop - depthBottom))} />
      </ScatterChart>
    </div>
  )
}

function Colorbar({ p }: { p: (typeof panels)[number] }) {
  const [min, max] = p.range
  const span = max - min
  const cells = colorbarLevels.map((level, i) => {
    const next = colorbarLevels[i + 1] ?? 1
    const prev = colorbarLevels[i - 1] ?? 0
    const h = (((next + level) / 2 - (prev + level) / 2) * span)
    return { day: 0.5, depth: min + level * span, w: 1, h, fill: jet(min + level * span, p.colorRange) }
  })
  return (
    <div style={{ position: 'absolute', left: 1335, top: p.barTop - 8 }}>
      <ScatterChart width={70} height={99} margin={{ top: 8, right: 0, bottom: 8, left: 0 }}>
        <XAxis type="number" dataKey="day" domain={[0, 1]} hide />
        <YAxis orientation="right" type="number" dataKey="depth" domain={[min, max]} ticks={p.barTicks} width={53} axisLine={false} tickLine={false} tickMargin={1} tick={tickFont} interval={0} />
        <Scatter data={cells} dataKey="depth" isAnimationActive={false} shape={cellShape(17, 83 / span)} />
        <ReferenceArea x1={0} x2={1} y1={min} y2={max} fill="none" stroke="#222" strokeWidth={1} />
      </ScatterChart>
    </div>
  )
}

function WindPanel() {
  const sticks = [...windMarch, ...windApril, ...windMay, ...windJune, ...windJuly].sort((a, b) => a[0] - b[0])
  const daysPerMs = 7.8 / 10.23
  const windData = [
    { x: windBaseDays[0], y: 0 },
    ...sticks.flatMap(([day, u, v]) => [
      { x: day, y: 0 },
      { x: day + u * daysPerMs, y: v },
      { x: day, y: 0 },
    ]),
    { x: windBaseDays[1], y: 0 },
  ]
  return (
    <div style={{ position: 'absolute', left: 0, top: 9 }}>
      <ComposedChart width={1405} height={10 + 156 + 40} data={windData} margin={{ top: 0, right: 104, bottom: 0, left: 0 }}>
        <XAxis xAxisId="top" orientation="top" type="number" dataKey="x" domain={[0, 122]} allowDataOverflow ticks={dateTicks} height={10} tickSize={10} tickFormatter={noLabel} stroke={axisColor} strokeWidth={1.5} />
        <XAxis xAxisId="bottom" type="number" dataKey="x" domain={[0, 122]} allowDataOverflow ticks={dateTicks} height={40} tickSize={12} tickMargin={9} tickFormatter={dateLabel} tick={tickFont} stroke={axisColor} strokeWidth={1.5} interval={0} />
        <YAxis yAxisId="left" type="number" domain={[-10.1, 9.9]} ticks={[]} width={53} stroke={axisColor} strokeWidth={1.5} />
        <YAxis yAxisId="right" orientation="right" type="number" domain={[-10.1, 9.9]} ticks={[]} width={0} stroke={axisColor} strokeWidth={1.5} />
        <ReferenceArea xAxisId="bottom" yAxisId="left" x1={82.8} x2={94} y1={-9.75} y2={9.7} fill="#e2e2e2" fillOpacity={1} stroke="none" />
        <ReferenceLine xAxisId="bottom" yAxisId="left" segment={[{ x: 12.1, y: -7.95 }, { x: 19.75, y: -7.95 }]} stroke="#3c3cd8" strokeWidth={1.5} />
        <ReferenceLine xAxisId="bottom" yAxisId="left" y={0} stroke="#333" strokeWidth={1.6} />
        <Line xAxisId="bottom" yAxisId="left" dataKey="y" stroke="#000" strokeWidth={1.1} dot={false} isAnimationActive={false} />
      </ComposedChart>
    </div>
  )
}

const absText = (left: number, y: number, size: number, extra: any = {}) => ({
  position: 'absolute' as const,
  left,
  top: y - size * 0.6,
  fontSize: size,
  lineHeight: `${size * 1.2}px`,
  fontFamily,
  color: textColor,
  whiteSpace: 'pre' as const,
  ...extra,
})

export default function App() {
  return (
    <div style={{ position: 'absolute', left: 0, top: 0, width: 1405, height: 1197, overflow: 'hidden', background: '#fff' }}>
      <svg width={0} height={0} style={{ position: 'absolute' }}>
        {panels.map((p) => (
          <filter key={p.key} id={`smear-${p.key}`} x="-5%" y="-20%" width="110%" height="140%" colorInterpolationFilters="sRGB">
            <feGaussianBlur stdDeviation={p.blur} />
          </filter>
        ))}
      </svg>
      <style>{panels.map((p) => `.heat-${p.key} .recharts-scatter{filter:url(#smear-${p.key})}`).join('\n')}</style>
      <WindPanel />
      {panels.map((p) => (
        <HeatPanel key={p.key} p={p} />
      ))}
      {panels.map((p) => (
        <Colorbar key={p.key} p={p} />
      ))}
      {panels.map((p) => (
        <div key={p.key} style={absText(679, p.titleY, 18.8, { transform: 'translateX(-50%)' })}>
          {p.title}
        </div>
      ))}
      <div style={absText(1114, 48, 25, { fontWeight: 700, color: '#111' })}>Surface Wind</div>
      <div style={absText(264, 157, 23.5, { color: '#222' })}>10m/s</div>
      <div style={absText(33, 97, 11, { transform: 'translateX(-50%) rotate(-90deg)' })}>[m/s]</div>
    </div>
  )
}
